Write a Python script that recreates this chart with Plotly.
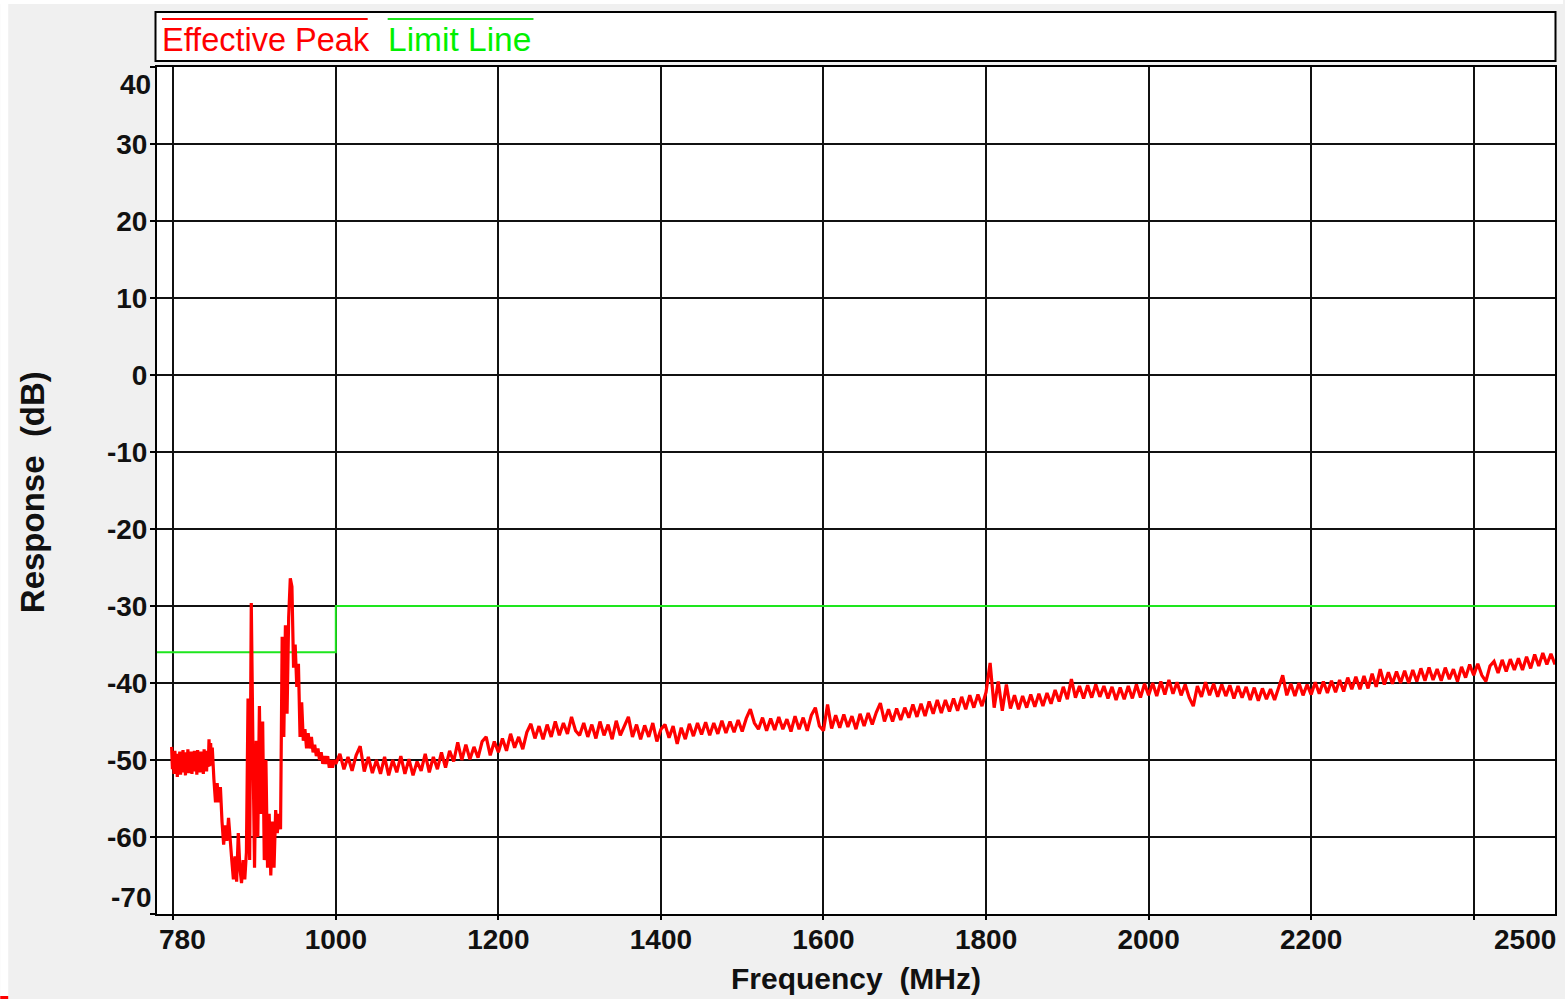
import numpy as np
import plotly.graph_objects as go

# ---------------- data ----------------
freq_a1 = np.arange(798, 850, 1)          # 798 .. 849 MHz
resp_a1 = [
    -48.3, -51.2, -49.0, -51.8, -48.8, -51.0, -49.6, -52.2, -49.2, -51.5,
    -48.9, -51.9, -49.5, -51.3, -48.7, -51.6, -49.4, -52.0, -49.0, -51.2,
    -48.6, -51.7, -49.3, -51.4, -48.9, -51.8, -49.1, -51.0, -48.8, -51.5,
    -49.2, -51.9, -48.7, -51.3, -49.0, -51.6, -48.9, -51.2, -49.4, -51.8,
    -48.6, -51.1, -49.0, -51.5, -48.8, -50.9, -47.3, -50.8, -47.8, -50.6,
    -48.4, -51.0,
]

freq_a2 = np.arange(850, 1001, 2)         # 850 .. 1000 MHz
resp_a2 = [
    -52.5, -55.5, -53.0, -55.5, -53.5,
    -58.0, -61.0, -58.5, -60.5, -57.5, -61.0,
    -63.0, -65.5, -62.5, -65.8, -59.5, -64.0, -66.0, -63.0, -65.5,
    -62.0, -42.0, -63.0, -29.6, -48.0, -64.0, -47.5, -60.0, -43.0, -57.0,
    -45.0, -63.0, -50.0,
    -64.0, -57.0, -65.0, -58.0, -64.0,
    -56.5, -59.5, -57.0, -59.0,
    -34.0, -47.0, -32.5, -44.0, -31.5,
    -26.4, -27.5, -38.0, -35.0, -40.5, -37.5, -47.0, -42.5, -47.5, -46.0,
    -48.5, -46.5, -48.5, -47.0, -49.0, -48.0, -49.5, -48.5, -50.0, -49.0,
    -50.5, -49.5, -50.5, -49.5, -51.0, -50.0, -51.0, -50.0, -50.5,
]

freq_b = np.arange(1005, 2501, 5)         # 1005 .. 2500 MHz
resp_b = [
    -49.2, -51.2, -49.6, -51.4, -49.4, -48.2, -51.5, -49.6, -51.7, -50.0,
    -51.8, -49.6, -52.0, -50.0, -51.6, -49.5, -51.8, -49.9, -52.0, -50.2,
    -51.4, -49.2, -51.6, -49.6, -51.2, -49.0, -51.0, -48.8, -50.2, -47.7,
    -50.0, -48.0, -49.9, -48.3, -49.7, -47.6, -47.0, -49.4, -47.6, -49.0,
    -47.2, -48.8, -46.6, -48.4, -47.0, -48.6, -46.4, -45.3, -47.2, -45.6,
    -47.3, -45.4, -47.0, -45.0, -46.8, -45.2, -46.6, -44.4, -46.2, -46.8,
    -45.2, -47.0, -45.4, -47.2, -45.0, -46.8, -45.4, -47.3, -44.9, -46.8,
    -45.6, -44.4, -47.0, -45.4, -47.3, -45.5, -47.0, -45.2, -47.6, -46.0,
    -45.4, -47.1, -45.6, -47.9, -45.8, -47.3, -45.3, -46.9, -45.2, -46.7,
    -45.1, -46.8, -45.2, -46.6, -44.9, -46.5, -45.0, -46.4, -44.8, -46.3,
    -44.6, -43.4, -45.2, -46.0, -44.5, -46.2, -44.6, -46.1, -44.4, -46.0,
    -44.7, -46.3, -44.3, -46.0, -44.5, -46.2, -44.2, -43.2, -45.6, -46.2,
    -42.8, -45.9, -44.2, -45.8, -44.1, -45.7, -44.3, -46.0, -44.0, -45.6,
    -43.9, -45.4, -43.8, -42.6, -45.0, -43.4, -45.0, -43.3, -44.8, -43.2,
    -44.5, -42.8, -44.4, -42.7, -44.3, -42.4, -44.0, -42.2, -43.9, -42.2,
    -43.7, -42.0, -43.6, -41.8, -43.4, -41.6, -43.2, -41.5, -43.0, -41.2,
    -37.4, -43.2, -39.8, -43.6, -40.2, -43.3, -41.6, -43.4, -41.7, -43.2,
    -41.5, -43.1, -41.4, -43.0, -41.3, -42.7, -40.9, -42.4, -40.5, -42.1,
    -39.5, -41.9, -40.4, -42.0, -40.3, -41.9, -40.2, -41.8, -40.4, -42.0,
    -40.5, -42.2, -40.6, -42.1, -40.4, -42.0, -40.2, -41.9, -40.1, -41.6,
    -40.0, -41.7, -39.8, -41.5, -39.6, -41.4, -39.9, -41.6, -40.2, -41.9,
    -43.0, -40.4, -41.8, -39.9, -41.6, -40.1, -41.8, -40.2, -41.7, -40.3,
    -42.0, -40.4, -41.9, -40.5, -42.2, -40.6, -42.3, -40.7, -42.1, -40.8,
    -42.2, -40.6, -39.0, -41.6, -40.1, -41.7, -40.0, -41.6, -40.2, -41.5,
    -39.9, -41.4, -39.8, -41.3, -39.7, -41.2, -39.6, -41.1, -39.3, -40.8,
    -39.2, -40.8, -39.1, -40.7, -38.8, -40.5, -38.2, -40.2, -38.6, -40.1,
    -38.5, -40.0, -38.4, -40.0, -38.3, -39.8, -38.1, -39.7, -38.0, -39.6,
    -38.2, -39.7, -38.0, -39.5, -38.2, -39.8, -37.9, -39.3, -37.6, -39.0,
    -37.5, -39.0, -39.8, -37.8, -37.2, -38.7, -37.0, -38.5, -36.9, -38.3,
    -36.8, -38.3, -36.6, -38.1, -36.3, -37.8, -36.1, -37.6, -36.2, -37.6,
]

limit_freq = [780, 1000, 1000, 2500]
limit_db = [-36, -36, -30, -30]

x_grid = [800, 1000, 1200, 1400, 1600, 1800, 2000, 2200, 2400]
x_text = ["", "1000", "1200", "1400", "1600", "1800", "2000", "2200", ""]
x_end_labels = [(780, "780", "left", 0), (2500, "2500", "right", 3)]
y_grid = [-70, -60, -50, -40, -30, -20, -10, 0, 10, 20, 30, 40]
y_text = ["", "-60", "-50", "-40", "-30", "-20", "-10", "0", "10", "20", "30", ""]

assert len(freq_a1) == len(resp_a1)
assert len(freq_a2) == len(resp_a2)
assert len(freq_b) == len(resp_b)
freq = list(freq_a1) + list(freq_a2) + list(freq_b)
resp = resp_a1 + resp_a2 + resp_b

# ---------------- layout helpers ----------------
W, H = 1565, 999
PL, PR, PT, PB = 157, 1557, 67, 914


def px(X):
    return (X - PL) / (PR - PL)


def py(Y):
    return (PB - Y) / (PB - PT)


FONT = "Arial, 'Liberation Sans', sans-serif"
RED = "#ff0000"
GREEN = "#1ee61e"
TICKFONT = dict(size=28, family=FONT, color="#111111", weight="bold")

fig = go.Figure()
fig.add_trace(go.Scatter(x=limit_freq, y=limit_db, mode="lines",
                         line=dict(color=GREEN, width=2), showlegend=False,
                         hoverinfo="skip"))
fig.add_trace(go.Scatter(x=freq, y=resp, mode="lines",
                         line=dict(color=RED, width=3.2), showlegend=False))

fig.update_layout(
    width=W, height=H,
    margin=dict(l=PL, r=W - PR, t=PT, b=H - PB, pad=0),
    paper_bgcolor="#f0f0f0",
    plot_bgcolor="white",
    showlegend=False,
    font=dict(family=FONT, color="black"),
)

fig.update_xaxes(
    range=[780, 2500], tickmode="array", tickvals=x_grid, ticktext=x_text,
    showgrid=True, gridcolor="#111111", gridwidth=2, zeroline=False,
    showline=True, linecolor="black", linewidth=2, mirror=True,
    ticks="outside", ticklen=4, tickwidth=2, tickcolor="black",
    ticklabelstandoff=-5,
    tickfont=TICKFONT,
)
fig.update_yaxes(
    range=[-70, 40], tickmode="array", tickvals=y_grid, ticktext=y_text,
    showgrid=True, gridcolor="#111111", gridwidth=2, zeroline=False,
    showline=True, linecolor="black", linewidth=2, mirror=True,
    ticks="outside", ticklen=5, tickwidth=2, tickcolor="black",
    ticklabelstandoff=-3,
    tickfont=TICKFONT,
)

annotations = []
# end labels on x axis
for xv, txt, anc, shift in x_end_labels:
    annotations.append(dict(x=xv, y=0, xref="x", yref="paper", text=txt,
                            showarrow=False, xanchor=anc, yanchor="top",
                            yshift=-8, xshift=shift, font=TICKFONT))
# end labels on y axis
annotations.append(dict(x=0, y=40, xref="paper", yref="y", text="40",
                        showarrow=False, xanchor="right", yanchor="top",
                        xshift=-4, yshift=0, font=TICKFONT))
annotations.append(dict(x=0, y=-70, xref="paper", yref="y", text="-70",
                        showarrow=False, xanchor="right", yanchor="bottom",
                        xshift=-4, yshift=-1, font=TICKFONT))
# axis titles
annotations.append(dict(x=0.5, y=py(978), xref="paper", yref="paper",
                        text="Frequency\u00a0\u00a0(MHz)", showarrow=False,
                        xanchor="center", yanchor="middle",
                        font=dict(size=30, family=FONT, color="#111111",
                                  weight="bold")))
annotations.append(dict(x=px(32), y=py(492), xref="paper", yref="paper",
                        text="Response\u00a0\u00a0(dB)", showarrow=False,
                        textangle=-90, xanchor="center", yanchor="middle",
                        font=dict(size=33, family=FONT, color="#111111",
                                  weight="bold")))
# legend texts
annotations.append(dict(x=px(160), y=py(40), xref="paper", yref="paper",
                        text="Effective Peak", showarrow=False,
                        xanchor="left", yanchor="middle",
                        font=dict(size=32.5, family=FONT, color=RED)))
annotations.append(dict(x=px(386), y=py(40), xref="paper", yref="paper",
                        text="Limit Line", showarrow=False,
                        xanchor="left", yanchor="middle",
                        font=dict(size=33.5, family=FONT, color="#00f000")))

shapes = [
    # white frame strips on the left and top
    dict(type="rect", xref="paper", yref="paper", x0=px(0), x1=px(8),
         y0=py(999), y1=py(0), line=dict(width=0), fillcolor="white",
         layer="below"),
    dict(type="rect", xref="paper", yref="paper", x0=px(0), x1=px(1565),
         y0=py(4), y1=py(0), line=dict(width=0), fillcolor="white",
         layer="below"),
    dict(type="rect", xref="paper", yref="paper", x0=px(0), x1=px(8),
         y0=py(999), y1=py(996), line=dict(width=0), fillcolor=RED,
         layer="above"),
    # legend box
    dict(type="rect", xref="paper", yref="paper", x0=px(155.5), x1=px(1557.5),
         y0=py(61), y1=py(12), line=dict(color="black", width=2),
         fillcolor="white", layer="below"),
    dict(type="line", xref="paper", yref="paper", x0=px(162), x1=px(368),
         y0=py(19), y1=py(19), line=dict(color=RED, width=2)),
    dict(type="line", xref="paper", yref="paper", x0=px(388), x1=px(534),
         y0=py(19), y1=py(19), line=dict(color=GREEN, width=2)),
]

fig.update_layout(annotations=annotations, shapes=shapes)
fig.write_html("out.html")
